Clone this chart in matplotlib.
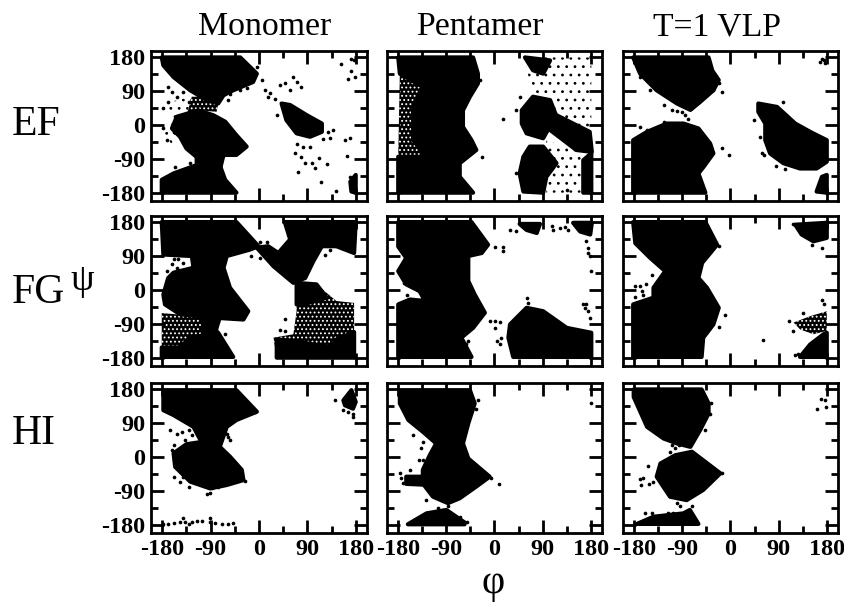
#!/usr/bin/env python3
import matplotlib
matplotlib.use('Agg')
import matplotlib.pyplot as plt
from matplotlib.ticker import MultipleLocator

plt.rcParams['font.family'] = ['Liberation Serif', 'DejaVu Serif']
plt.rcParams['hatch.linewidth'] = 0.8

# regions as (phi, psi) outlines: solid = fully covered,
# speck = nearly covered with small gaps, sparse = loose dots, pts = single points
ef_mono_solid = [
    [(-181, 180), (-35, 180), (-4, 137), (-11, 115), (-48, 93), (-66, 80), (-76, 58), (-97, 67), (-128, 93), (-159, 128), (-178, 159)],
    [(-153, 23), (-113, 40), (-85, 27), (-63, 10), (-42, -26), (-23, -56), (-42, -78), (-79, -78), (-113, -87), (-135, -61), (-147, -30), (-162, -8)],
    [(-116, -83), (-66, -78), (-73, -118), (-116, -109)],
    [(-181, -144), (-159, -127), (-116, -105), (-73, -105), (-63, -144), (-42, -178), (-181, -178)],
    [(42, 58), (58, 54), (89, 27), (117, 5), (117, -17), (95, -30), (70, -21), (51, 14)],
    [(170, -149), (180, -131), (180, -178), (172, -175)],
]
ef_mono_speck = [
    [(-125, 76), (-73, 76), (-79, 36), (-110, 40), (-135, 25)],
]
ef_mono_sparse = [
    [(-172, 60), (-125, 76), (-135, 25), (-153, 14), (-178, -21), (-159, -56), (-147, -30), (-162, -8)],
]
ef_mono_pts = [(-4, 155), (5, 120), (11, 95), (20, 86), (17, 74), (30, 71), (39, 106), (48, 111), (64, 127), (70, 115),
               (79, 102), (58, 93), (33, 27), (138, -11), (129, -17), (132, -32), (120, -37), (169, -34), (160, -39),
               (70, -48), (82, -56), (95, -56), (67, -72), (79, -83), (86, -100), (98, -100), (104, -113), (126, -102),
               (112, -87), (73, -122), (115, -149), (143, -173), (163, -81), (153, 162), (172, 177), (176, 174),
               (172, 144), (166, 124), (179, 127), (169, -136), (-178, 45), (-169, 62), (-162, 89), (-169, 102),
               (-153, 76), (-141, 89), (-131, 62), (-178, -8), (-172, -39), (-159, -17), (-156, -109), (-128, -100),
               (-57, 67), (-54, 84), (-35, 93), (-23, 98)]

ef_penta_solid = [
    [(-180, 180), (-40, 180), (-31, 137), (-31, 111), (-46, 76), (-59, 40), (-59, -4), (-43, -39), (-34, -65), (-65, -100), (-65, -136), (-40, -178), (-180, -178), (-180, -83), (-127, -83), (-152, -39), (-152, 49), (-134, 102), (-177, 137)],
    [(51, 40), (72, 76), (104, 67), (115, 27), (91, -34), (60, -21), (51, 5)],
    [(116, 27), (178, -17), (182, -70), (153, -65), (104, -12)],
    [(57, 180), (104, 172), (91, 137), (72, 146)],
    [(66, -56), (91, -56), (116, -100), (97, -136), (91, -178), (54, -175), (47, -127), (54, -83)],
    [(166, -92), (181, -74), (181, -178), (166, -178)],
]
ef_penta_speck = [
    [(-177, 137), (-134, 102), (-152, 49), (-152, -39), (-127, -83), (-180, -83)],
]
ef_penta_sparse = [
    [(57, 180), (181, 180), (181, -15), (115, 27), (104, 67), (72, 76), (66, 110)],
    [(97, -39), (166, -74), (178, -178), (97, -178)],
]
ef_penta_pts = [(16, 18), (-24, -83), (-34, 124), (-27, 120), (41, 40), (47, 76), (41, -127), (135, -171)]

ef_vlp_solid = [
    [(-182, 180), (-41, 180), (-34, 145), (-22, 120), (-32, 93), (-57, 62), (-75, 41), (-100, 58), (-138, 93), (-169, 137)],
    [(-182, -178), (-47, -178), (-60, -127), (-50, -109), (-32, -74), (-38, -48), (-60, -8), (-88, 5), (-119, 5), (-156, -17), (-182, -39)],
    [(52, 58), (87, 49), (121, 5), (149, -17), (180, -39), (180, -96), (161, -114), (130, -114), (99, -100), (74, -74), (65, -39), (65, 5), (52, 36)],
    [(171, -136), (180, -131), (180, -178), (161, -175)],
]
ef_vlp_speck = []
ef_vlp_sparse = []
ef_vlp_pts = [(-169, 128), (-150, 93), (-125, 54), (-110, 40), (-100, 39), (-125, 10), (-156, -12), (-169, -5), (-16, 89),
              (-22, 111), (-32, 93), (-16, -61), (-2, -77), (44, 14), (85, -107), (102, -114), (59, -74), (99, 62),
              (55, -30), (62, -78), (-91, 36), (-85, 27), (-79, 18), (168, 168), (174, 172), (177, 164), (171, 177)]

fg_mono_solid = [
    [(-181, 181), (-42, 181), (-1, 117), (-17, 108), (-60, 91), (-66, 60), (-54, 7), (-20, -55), (-29, -77), (-85, -72), (-147, -63), (-175, -37), (-178, -11), (-169, 33), (-159, 47), (-122, 60), (-125, 91), (-178, 95)],
    [(48, 181), (180, 181), (177, 99), (144, 117), (117, 117), (101, 77), (86, 33), (64, 20), (27, 64), (-4, 113), (17, 117), (36, 99), (58, 135)],
    [(70, 20), (107, 16), (126, -19), (82, -37), (70, -37)],
    [(33, -129), (82, -138), (132, -151), (144, -130), (177, -110), (177, -178), (33, -178)],
    [(-181, -151), (-147, -151), (-128, -125), (-76, -112), (-48, -176), (-181, -176)],
    [(-104, -72), (-73, -72), (-82, -112), (-104, -120)],
]
fg_mono_speck = [
    [(70, 20), (107, 16), (144, -28), (177, -33), (177, -178), (33, -178), (27, -125), (64, -116), (70, -55)],
    [(-181, -60), (-79, -72), (-73, -125), (-120, -140), (-181, -155)],
]
fg_mono_sparse = []
fg_mono_pts = [(-159, 82), (-150, 82), (-162, 69), (-153, 60), (-141, 73), (-172, 51), (48, -76), (39, -106), (48, -107),
               (-63, -114), (14, 128), (2, 128), (-14, 91), (2, 87), (123, 95), (132, 106)]

fg_penta_solid = [
    [(-180, 181), (-43, 181), (-12, 121), (-24, 99), (-49, 91), (-49, 25), (-37, -11), (-18, -59), (-40, -99), (-62, -125), (-43, -176), (-180, -176), (-180, -37), (-158, -24), (-130, -28), (-140, -2), (-165, 16), (-180, 51), (-165, 86), (-180, 116)],
    [(29, -90), (60, -46), (91, -55), (135, -99), (181, -112), (181, -176), (35, -176), (26, -125)],
    [(47, 176), (85, 176), (79, 152), (60, 160)],
    [(147, 179), (182, 179), (179, 148), (160, 156)],
]
fg_penta_speck = []
fg_penta_sparse = []
fg_penta_pts = [(107, 170), (110, 161), (122, 165), (132, 167), (138, 161), (29, 161), (41, 157), (1, 114), (16, 114), (15, 104),
                (172, 130), (175, 113), (178, 91), (175, 99), (180, 51), (172, -37), (175, -55), (178, -72), (169, -46),
                (166, -37), (60, -21), (63, -33), (-9, -81), (1, -81), (10, -83), (1, -99), (4, -134), (13, -125), (10, -143),
                (-49, -134), (-54, -143), (-176, 60), (-170, 20), (-163, -12)]

fg_vlp_solid = [
    [(-182, 181), (-47, 181), (-25, 121), (-53, 73), (-60, 33), (-44, 7), (-22, -46), (-32, -90), (-51, -125), (-54, -176), (-182, -176), (-182, -37), (-144, -19), (-144, 7), (-122, 51), (-150, 86), (-178, 125)],
    [(121, 174), (180, 179), (180, 139), (155, 130), (133, 148)],
    [(174, -116), (180, -112), (180, -176), (130, -176), (149, -143)],
]
fg_vlp_speck = [
    [(118, -85), (149, -68), (180, -55), (180, -107), (155, -116), (130, -103)],
]
fg_vlp_sparse = []
fg_vlp_pts = [(116, 177), (-21, 117), (-31, 117), (-10, -66), (-22, -97), (60, -130), (120, -172), (127, -169), (-179, 13),
              (-170, 11), (-158, 16), (-147, 40), (-166, -2), (-163, -11), (-178, -18), (171, -24), (174, -35), (171, 113),
              (152, 121), (136, -59), (110, -81), (117, -108)]

hi_mono_solid = [
    [(-178, 178), (-42, 178), (-4, 121), (-42, 99), (-60, 81), (-73, 28), (-107, 41), (-122, 81), (-159, 112), (-178, 125)],
    [(-159, 11), (-135, 35), (-107, 41), (-73, 28), (-54, 2), (-32, -33), (-29, -60), (-60, -73), (-91, -82), (-128, -64), (-156, -25)],
    [(157, 151), (172, 178), (180, 147), (175, 129), (160, 138)],
]
hi_mono_speck = []
hi_mono_sparse = []
hi_mono_pts = [(-169, -176), (-159, -174), (-147, -172), (-138, -170), (-142, -161), (-125, -170), (-116, -167), (-107, -167),
               (-91, -161), (-91, -172), (-82, -174), (-69, -176), (-57, -176), (-48, -174), (-178, -176), (-131, -176),
               (-166, 72), (-153, 63), (-144, 68), (-131, 72), (-138, 46), (-125, 59), (-159, 33), (-162, 19), (-159, -51),
               (-147, -64), (-141, -51), (-130, -79), (-97, -97), (-91, -95), (-88, -82), (-76, -77), (-26, -62), (-7, 119),
               (141, 151), (157, 125), (166, 121), (175, 116), (175, 107), (-175, 173), (-60, 63), (-54, 46), (-57, 55)]

hi_penta_solid = [
    [(-177, 178), (-46, 178), (-37, 143), (-49, 90), (-59, 37), (-109, 37), (-134, 68), (-161, 99), (-177, 143)],
    [(-109, 37), (-59, 37), (-49, -3), (-9, -51), (-34, -77), (-65, -108), (-87, -121), (-115, -104), (-134, -69), (-134, -33), (-121, 6)],
    [(-162, -177), (-127, -148), (-90, -139), (-56, -172), (-56, -177)],
    [(-165, -51), (-134, -51), (-134, -72), (-165, -70)],
]
hi_penta_speck = []
hi_penta_sparse = []
hi_penta_pts = [(-31, 152), (-34, 127), (-43, 125), (180, 144), (9, -69), (-6, -55), (-177, -42), (-174, -55), (-172, -67),
                (-158, -33), (-141, -7), (-134, -7), (-137, 26), (-134, 41), (-152, 59), (-129, -113), (-105, -135),
                (-87, -129), (-52, -170), (-65, -157)]

hi_vlp_solid = [
    [(-181, 180), (-54, 180), (-41, 143), (-41, 116), (-57, 72), (-75, 28), (-100, 37), (-125, 50), (-156, 81), (-181, 160)],
    [(-103, 6), (-72, 15), (-19, -42), (-51, -86), (-82, -113), (-113, -104), (-138, -51), (-131, -16)],
    [(-175, -176), (-144, -157), (-88, -148), (-76, -139), (-60, -176)],
]
hi_vlp_speck = []
hi_vlp_sparse = []
hi_vlp_pts = [(-103, 24), (-97, 33), (-110, 33), (-113, 15), (-155, -23), (-169, -58), (-163, -55), (-168, -73), (-153, -69),
              (-144, -64), (-16, -42), (-38, 116), (-36, 144), (-47, 72), (-100, -121), (-94, -129), (-107, -146),
              (-116, -146), (-72, -129), (161, 129), (169, 155), (177, 151), (179, 134), (-159, -148), (-147, -148)]

col_names = ['Monomer', 'Pentamer', 'T=1 VLP']
row_names = ['EF', 'FG', 'HI']
tick_vals = [-180, -90, 0, 90, 180]
tick_text = ['-180', '-90', '0', '90', '180']

panels = [
    [(ef_mono_solid, ef_mono_speck, ef_mono_sparse, ef_mono_pts),
     (ef_penta_solid, ef_penta_speck, ef_penta_sparse, ef_penta_pts),
     (ef_vlp_solid, ef_vlp_speck, ef_vlp_sparse, ef_vlp_pts)],
    [(fg_mono_solid, fg_mono_speck, fg_mono_sparse, fg_mono_pts),
     (fg_penta_solid, fg_penta_speck, fg_penta_sparse, fg_penta_pts),
     (fg_vlp_solid, fg_vlp_speck, fg_vlp_sparse, fg_vlp_pts)],
    [(hi_mono_solid, hi_mono_speck, hi_mono_sparse, hi_mono_pts),
     (hi_penta_solid, hi_penta_speck, hi_penta_sparse, hi_penta_pts),
     (hi_vlp_solid, hi_vlp_speck, hi_vlp_sparse, hi_vlp_pts)],
]

W, H = 845, 604
col_px = [(151, 367), (387, 602), (623, 838)]
row_px = [(51, 201), (216, 366), (383, 533)]

fig = plt.figure(figsize=(W / 100, H / 100), dpi=100)

for r, (y0, y1) in enumerate(row_px):
    for c, (x0, x1) in enumerate(col_px):
        ax = fig.add_axes([x0 / W, 1 - y1 / H, (x1 - x0) / W, (y1 - y0) / H])
        solid, speck, sparse, pts = panels[r][c]
        for poly in sparse:
            ax.fill(*zip(*poly), facecolor='none', edgecolor='k', hatch='..', lw=0, zorder=1)
        for poly in speck:
            ax.fill(*zip(*poly), facecolor='k', edgecolor='w', hatch='....', lw=0, zorder=1)
        for poly in solid:
            ax.fill(*zip(*poly), color='k', lw=3, joinstyle='round', zorder=2)
        ax.scatter(*zip(*pts), s=7, color='k', lw=0, zorder=3)

        ax.set_xlim(-201, 201)
        ax.set_ylim(-200, 197)
        ax.xaxis.set_minor_locator(MultipleLocator(45))
        ax.yaxis.set_minor_locator(MultipleLocator(45))
        ax.set_xticks(tick_vals)
        ax.set_yticks(tick_vals)
        ax.set_xticklabels(tick_text if r == 2 else [], fontsize=17.5, fontweight='bold')
        ax.set_yticklabels(tick_text if c == 0 else [], fontsize=17.5, fontweight='bold')
        ax.tick_params(which='major', direction='in', top=True, right=True, length=9.5, width=2, pad=4)
        ax.tick_params(which='minor', direction='in', top=True, right=True, length=5, width=2)
        for s in ax.spines.values():
            s.set_linewidth(2)

for name, xp in zip(col_names, [265, 480, 717]):
    fig.text(xp / W, 1 - 27 / H, name, fontsize=24.3, ha='center', va='center')
for name, yp in zip(row_names, [125, 293, 434]):
    fig.text(12 / W, 1 - yp / H, name, fontsize=30, ha='left', va='center')
fig.text(82 / W, 1 - 281 / H, 'ψ', fontsize=27, ha='center', va='center')
fig.text(493 / W, 1 - 584 / H, 'φ', fontsize=29, ha='center', va='center')

fig.savefig('out.png', dpi=100)
